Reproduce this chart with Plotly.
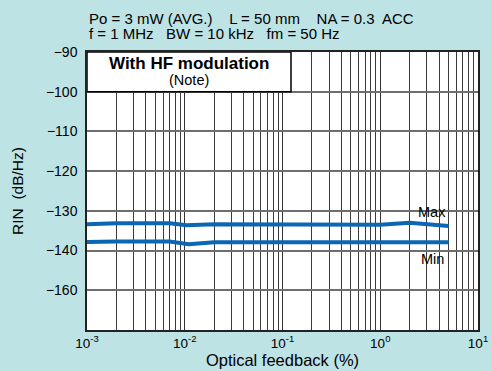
import plotly.graph_objects as go

# optical feedback (%) and RIN (dB/Hz)
fb_max = [0.001, 0.002, 0.007, 0.0105, 0.02, 0.1, 1.0, 2.0, 5.0]
rin_max = [-133.4, -133.15, -133.15, -133.65, -133.4, -133.5, -133.5, -133.0, -133.8]

fb_min = [0.001, 0.002, 0.007, 0.011, 0.02, 0.1, 1.0, 2.0, 5.0]
rin_min = [-137.85, -137.7, -137.7, -138.4, -137.9, -137.95, -137.95, -138.1, -137.9]

y_ticks = [-90, -100, -110, -120, -130, -140, -150]
y_labels = ["\u221290", "\u2212100", "\u2212110", "\u2212120", "\u2212130", "\u2212140", "\u2212160"]
x_ticks = [0.001, 0.01, 0.1, 1, 10]
x_labels = ["10<sup>-3</sup>", "10<sup>-2</sup>", "10<sup>-1</sup>", "10<sup>0</sup>", "10<sup>1</sup>"]
minor_x = [k * 10.0 ** e for e in range(-3, 1) for k in range(2, 10)]

nb = "\u00a0"
cond1 = f"Po = 3 mW (AVG.){nb*3} L = 50 mm{nb*3} NA = 0.3{nb} ACC"
cond2 = f"f = 1 MHz{nb*2} BW = 10 kHz{nb*2} fm = 50 Hz"

blue = "#0b66b3"
font = "Liberation Sans, Arial, sans-serif"

fig = go.Figure()
fig.add_trace(go.Scatter(x=fb_max, y=rin_max, mode="lines",
                         line=dict(color=blue, width=4), hoverinfo="skip"))
fig.add_trace(go.Scatter(x=fb_min, y=rin_min, mode="lines",
                         line=dict(color=blue, width=4), hoverinfo="skip"))

# white note box in the top-left corner
fig.add_shape(type="rect", xref="x", yref="y", x0=0.001, x1=10 ** -0.913, y0=-100, y1=-90,
              fillcolor="white", line=dict(color="black", width=1.5), layer="above")
fig.add_annotation(x=-1.956, y=-93.0, text="<b>With HF modulation</b>", showarrow=False,
                   font=dict(size=17, color="black"))
fig.add_annotation(x=-1.956, y=-97.1, text="(Note)", showarrow=False,
                   font=dict(size=14.5, color="black"))

fig.add_annotation(x=0.53, y=-130.3, text="Max", showarrow=False, font=dict(size=14.5, color="black"))
fig.add_annotation(x=0.53, y=-142.1, text="Min", showarrow=False, font=dict(size=14.5, color="black"))

fig.add_annotation(xref="paper", yref="paper", x=0, y=1, xanchor="left", yanchor="bottom",
                   yshift=23, showarrow=False, text=cond1, font=dict(size=15, color="black"))
fig.add_annotation(xref="paper", yref="paper", x=0, y=1, xanchor="left", yanchor="bottom",
                   yshift=8, showarrow=False, text=cond2, font=dict(size=15, color="black"))

fig.update_layout(
    width=491, height=371,
    margin=dict(l=87, r=13, t=52, b=41),
    paper_bgcolor="#bde3e5", plot_bgcolor="white",
    showlegend=False,
    font=dict(family=font, color="black", size=13),
    xaxis=dict(type="log", range=[-3, 1], tickvals=x_ticks, ticktext=x_labels,
               showgrid=True, gridcolor="#333333", gridwidth=1,
               minor=dict(tickvals=minor_x, showgrid=True, gridcolor="#3a3a3a", gridwidth=1, ticks=""),
               showline=True, mirror=True, linecolor="#222222", linewidth=1.5,
               ticks="", tickfont=dict(size=13.5), automargin=False,
               title=dict(text="Optical feedback (%)", font=dict(size=16.5), standoff=4)),
    yaxis=dict(range=[-160, -90], tickvals=y_ticks, ticktext=y_labels,
               showgrid=True, gridcolor="#6e6e6e", gridwidth=1.5,
               showline=True, mirror=True, linecolor="#222222", linewidth=1.5,
               ticks="", zeroline=False, tickfont=dict(size=14), ticklabelstandoff=5,
               automargin=False,
               title=dict(text="RIN  (dB/Hz)", font=dict(size=15.5), standoff=18)),
)

fig.write_html("out.html", config={"displayModeBar": False},
               post_script="document.body.style.margin='0';")
